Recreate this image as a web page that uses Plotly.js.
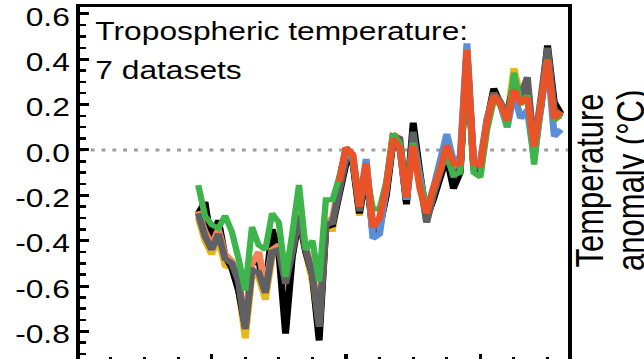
<!DOCTYPE html>
<html>
<head>
<meta charset="utf-8">
<script src="https://cdn.plot.ly/plotly-3.0.1.min.js"></script>
<style>
  html, body { margin: 0; padding: 0; background: #fff; overflow: hidden; }
  #wrap { width: 644px; height: 359px; overflow: hidden; position: relative; }
  #plot { width: 551px; height: 380px; transform: scaleX(1.27); transform-origin: 0 0; }
</style>
</head>
<body>
<div id="wrap"><div id="plot"></div></div>
<script>
// Years
const yearsLong = [];
for (let y = 1958; y <= 2012; y++) yearsLong.push(y);
const yearsSat = [];
for (let y = 1979; y <= 2012; y++) yearsSat.push(y);

// Tropospheric temperature anomaly (°C)
const yellowSeries = [-0.30,-0.40,-0.46,-0.39,-0.51,-0.52,-0.61,-0.83,-0.55,-0.56,-0.66,-0.47,-0.46,-0.61,-0.47,-0.30,-0.45,-0.58,-0.80,-0.35,-0.35,
  -0.18,-0.06,-0.05,-0.29,-0.09,-0.36,-0.35,-0.19,0.04,0.03,-0.23,0.05,-0.13,-0.31,-0.21,-0.10,-0.01,-0.12,-0.08,0.42,-0.08,-0.08,0.13,0.27,0.21,0.14,0.36,0.23,0.28,0.00,0.19,0.44,0.16,0.14];
const blackSeries = [-0.28,-0.23,-0.42,-0.31,-0.47,-0.52,-0.62,-0.78,-0.50,-0.49,-0.62,-0.35,-0.45,-0.81,-0.47,-0.30,-0.45,-0.55,-0.84,-0.34,-0.33,
  -0.20,-0.06,-0.05,-0.28,-0.10,-0.36,-0.34,-0.20,0.04,0.02,-0.24,0.12,-0.10,-0.30,-0.22,-0.13,-0.03,-0.17,-0.10,0.42,-0.07,-0.09,0.12,0.27,0.20,0.16,0.29,0.25,0.28,0.01,0.19,0.46,0.21,0.16];
const orangeSeries = [-0.27,-0.36,-0.42,-0.35,-0.46,-0.49,-0.57,-0.77,-0.50,-0.45,-0.60,-0.44,-0.42,-0.57,-0.44,-0.28,-0.43,-0.53,-0.77,-0.32,-0.30,
  -0.15,0.01,-0.02,-0.25,-0.06,-0.33,-0.31,-0.16,0.07,0.05,-0.21,0.03,-0.14,-0.32,-0.19,-0.09,0.00,-0.08,-0.06,0.43,-0.06,-0.07,0.13,0.25,0.21,0.13,0.27,0.22,0.24,0.02,0.21,0.41,0.14,0.15];
const graySeries = [-0.28,-0.38,-0.44,-0.37,-0.48,-0.50,-0.58,-0.79,-0.53,-0.54,-0.63,-0.45,-0.44,-0.59,-0.45,-0.29,-0.44,-0.55,-0.78,-0.33,-0.32,
  -0.17,-0.04,-0.03,-0.27,-0.08,-0.35,-0.33,-0.18,0.06,0.05,-0.22,0.08,-0.12,-0.32,-0.20,-0.10,0.00,-0.12,-0.08,0.43,-0.08,-0.08,0.13,0.25,0.21,0.15,0.30,0.24,0.32,0.00,0.20,0.45,0.18,0.15];
const blueSeries = [-0.13,0.00,-0.04,-0.24,-0.04,-0.39,-0.37,-0.16,0.05,0.01,-0.22,0.03,-0.11,-0.27,-0.17,-0.05,0.07,-0.05,-0.03,0.47,-0.06,-0.05,0.14,0.23,0.20,0.10,0.25,0.14,0.175,-0.035,0.18,0.40,0.06,0.09];
const greenSeries = [-0.155,-0.29,-0.33,-0.345,-0.29,-0.36,-0.48,-0.62,-0.34,-0.42,-0.44,-0.28,-0.32,-0.56,-0.37,-0.155,-0.44,-0.40,-0.58,-0.22,-0.22,
  -0.12,0.01,-0.03,-0.22,-0.10,-0.26,-0.26,-0.14,0.07,0.03,-0.19,0.03,-0.14,-0.25,-0.18,-0.08,-0.03,-0.11,-0.10,0.40,-0.10,-0.12,0.09,0.22,0.20,0.10,0.34,0.20,0.24,-0.065,0.20,0.40,0.13,0.16];
const redSeries = [-0.14,0.01,-0.02,-0.25,-0.06,-0.34,-0.30,-0.16,0.05,0.01,-0.21,0.02,-0.17,-0.28,-0.17,-0.09,0.02,-0.06,-0.06,0.44,-0.06,-0.065,0.13,0.24,0.20,0.13,0.265,0.21,0.23,0.015,0.20,0.40,0.14,0.17];

const yTickVals = [-1.0,-0.8,-0.6,-0.4,-0.2,0.0,0.2,0.4,0.6];
const yTickText = ['-1.0','-0.8','-0.6','-0.4','-0.2','0.0','0.2','0.4','0.6'];
const labelLine1 = 'Tropospheric temperature:';
const labelLine2 = '7 datasets';
const yTitle1 = 'Temperature';
const yTitle2 = 'anomaly (°C)';

const LW = 5.5;
function tr(x, y, color, w) {
  return { x: x, y: y, type: 'scatter', mode: 'lines', hoverinfo: 'skip',
           line: { color: color, width: w || LW, shape: 'linear' }, showlegend: false };
}
const data = [
  tr(yearsLong, yellowSeries, '#E9B61E'),
  tr(yearsLong, blackSeries, '#000000'),
  tr(yearsLong, orangeSeries, '#F2845A'),
  tr(yearsLong, graySeries, '#5E6063'),
  tr(yearsSat, blueSeries, '#5A8FD8'),
  tr(yearsLong, greenSeries, '#3DB54A', 5),
  tr(yearsSat, redSeries, '#EA5228')
];

const FONT = 'Liberation Sans, Arial, Helvetica, sans-serif';
const layout = {
  width: 551, height: 380,
  margin: { l: 63, r: 104, t: 7, b: 18 },
  paper_bgcolor: '#fff', plot_bgcolor: '#fff',
  showlegend: false,
  font: { family: FONT, color: '#000' },
  xaxis: {
    range: [1940.4, 2013], showgrid: false, zeroline: false,
    showline: true, linecolor: '#000', linewidth: 3, mirror: true,
    ticks: 'inside', tick0: 1960, dtick: 20, ticklen: 8, tickwidth: 2.4, tickcolor: '#000',
    showticklabels: false,
    minor: { ticks: 'inside', tick0: 1960, dtick: 5, ticklen: 5, tickwidth: 2.4, tickcolor: '#000' }
  },
  yaxis: {
    range: [-0.935, 0.63], showgrid: false, zeroline: false,
    showline: true, linecolor: '#000', linewidth: 3, mirror: true,
    ticks: 'inside', tickmode: 'array', tickvals: yTickVals, ticktext: yTickText,
    ticklen: 7, tickwidth: 3, tickcolor: '#000', ticklabeloverflow: 'allow', ticklabelshift: 3,
    tickfont: { size: 25, family: FONT, color: '#000' },
    minor: { ticks: 'inside', tick0: 0, dtick: 0.05, ticklen: 4.5, tickwidth: 2.5, tickcolor: '#000' }
  },
  shapes: [{
    type: 'line', xref: 'paper', x0: 0, x1: 1, yref: 'y', y0: 0, y1: 0, layer: 'below',
    line: { color: '#9b9b9b', width: 3, dash: '3px,5.5px' }
  }],
  annotations: [
    { text: labelLine1, xref: 'paper', yref: 'paper', x: 0.0266, y: 0.9324, xanchor: 'left', yanchor: 'middle',
      showarrow: false, font: { size: 25, family: FONT, color: '#000' } },
    { text: labelLine2, xref: 'paper', yref: 'paper', x: 0.0266, y: 0.8225, xanchor: 'left', yanchor: 'middle',
      showarrow: false, font: { size: 25, family: FONT, color: '#000' } },
    { text: yTitle1, xref: 'paper', yref: 'paper', x: 1.0455, y: 0.5127, xanchor: 'center', yanchor: 'middle',
      textangle: -90, showarrow: false, font: { size: 31, family: FONT, color: '#000' } },
    { text: yTitle2, xref: 'paper', yref: 'paper', x: 1.1300, y: 0.5127, xanchor: 'center', yanchor: 'middle',
      textangle: -90, showarrow: false, font: { size: 31, family: FONT, color: '#000' } }
  ]
};
Plotly.newPlot('plot', data, layout, { staticPlot: true, displayModeBar: false });
</script>
</body>
</html>
